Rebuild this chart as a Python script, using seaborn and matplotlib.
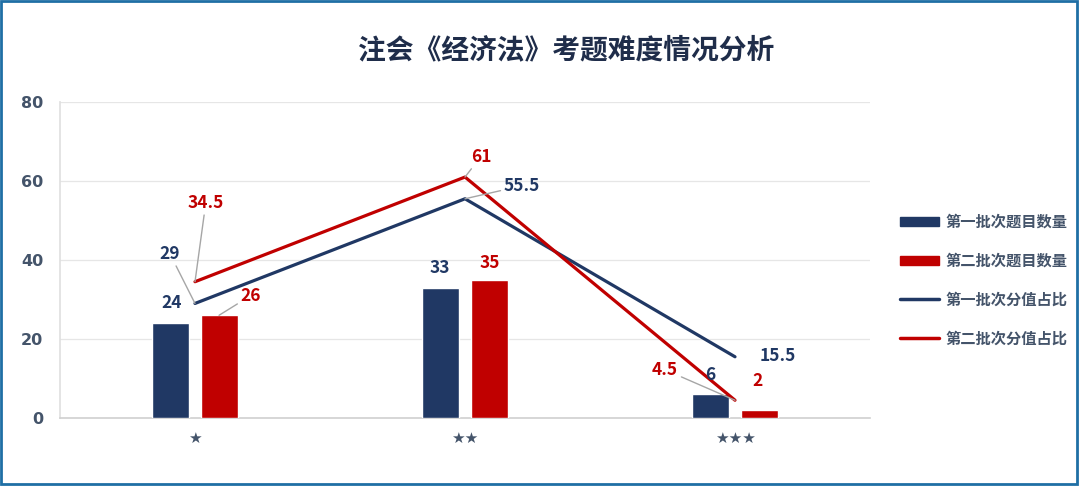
import matplotlib
matplotlib.use("Agg")
import matplotlib.pyplot as plt
import seaborn as sns
import pandas as pd
from matplotlib.patches import Rectangle, Patch
from matplotlib.lines import Line2D

categories = ["★", "★★", "★★★"]
bar_series = ["第一批次题目数量", "第二批次题目数量"]
line_series = ["第一批次分值占比", "第二批次分值占比"]
count_batch1 = [24, 33, 6]
count_batch2 = [26, 35, 2]
share_batch1 = [29, 55.5, 15.5]
share_batch2 = [34.5, 61, 4.5]
yticks = [0, 20, 40, 60, 80]

NAVY = "#203864"
RED = "#C00000"
TICK = "#44546A"

sns.set_theme(style="white")
plt.rcParams["font.family"] = ["Noto Sans CJK SC", "DejaVu Sans"]

fig = plt.figure(figsize=(10.8, 4.96), dpi=100)
ax = fig.add_axes([60 / 1080, 1 - 418 / 496, 810 / 1080, 316 / 496])

df = pd.DataFrame({
    "cat": categories * 2,
    "series": [bar_series[0]] * 3 + [bar_series[1]] * 3,
    "value": count_batch1 + count_batch2,
})
sns.barplot(data=df, x="cat", y="value", hue="series", order=categories,
            hue_order=bar_series, palette=[NAVY, RED], width=0.356, gap=0.23,
            saturation=1, legend=False, ax=ax, zorder=3)

xs = list(range(len(categories)))
sns.lineplot(x=xs, y=share_batch1, color=NAVY, linewidth=2.3, ax=ax, zorder=4)
sns.lineplot(x=xs, y=share_batch2, color=RED, linewidth=2.3, ax=ax, zorder=4)

ax.set_xlim(-0.5, 2.5)
ax.set_ylim(0, 80)
ax.set_yticks(yticks)
ax.set_xlabel("")
ax.set_ylabel("")
ax.grid(axis="y", color="#E6E6E6", linewidth=0.9, zorder=0)
for s in ["top", "right"]:
    ax.spines[s].set_visible(False)
ax.spines["left"].set_color("#E0E0E0")
ax.spines["bottom"].set_color("#D0D0D0")
ax.spines["bottom"].set_linewidth(1.2)
ax.tick_params(axis="y", labelsize=11.5, labelcolor=TICK, length=0, pad=12)
ax.tick_params(axis="x", labelsize=11, labelcolor=TICK, length=0, pad=9)
for t in ax.get_yticklabels():
    t.set_fontweight("bold")
    t.set_family(["DejaVu Sans"])
for t in ax.get_xticklabels():
    t.set_family(["DejaVu Sans"])

lead = dict(arrowstyle="-", color="#A6A6A6", lw=1.0, shrinkA=0, shrinkB=0)
fs = 12.5

def lab(text, color, xy_text, xy_pt=None, ha="center"):
    if xy_pt is None:
        ax.text(xy_text[0], xy_text[1], text, color=color, fontsize=fs,
                fontweight="bold", ha=ha, va="center", zorder=6)
    else:
        ax.annotate(text, xy=xy_pt, xytext=xy_text, color=color, fontsize=fs,
                    fontweight="bold", ha=ha, va="center", arrowprops=lead, zorder=6)

# category 0
lab(str(count_batch1[0]), NAVY, (-0.085, 29.0))
lab(str(count_batch2[0]), RED, (0.207, 31.0), (0.089, count_batch2[0]))
lab(str(share_batch1[0]), NAVY, (-0.093, 41.6), (0.0, share_batch1[0]))
lab(str(share_batch2[0]), RED, (0.04, 54.5), (0.0, share_batch2[0]))
# category 1
lab(str(count_batch1[1]), NAVY, (0.907, 38.0))
lab(str(count_batch2[1]), RED, (1.093, 39.2))
lab(str(share_batch2[1]), RED, (1.059, 66.2), (1.0, share_batch2[1]))
lab(str(share_batch1[1]), NAVY, (1.211, 58.8), (1.0, share_batch1[1]))
# category 2
lab(str(count_batch1[2]), NAVY, (1.907, 10.9))
lab(str(count_batch2[2]), RED, (2.085, 9.4))
lab(str(share_batch2[2]), RED, (1.741, 12.2), (2.0, share_batch2[2]))
lab(str(share_batch1[2]), NAVY, (2.159, 15.7))

# title
fig.text(566 / 1080, 1 - 50 / 496, "注会《经济法》考题难度情况分析", ha="center", va="center",
         fontsize=20, fontweight="bold", color="#1F2D4A")

# legend
handles = [
    Patch(facecolor=NAVY, edgecolor=NAVY),
    Patch(facecolor=RED, edgecolor=RED),
    Line2D([0], [0], color=NAVY, lw=2.5),
    Line2D([0], [0], color=RED, lw=2.5),
]
leg = fig.legend(handles, bar_series + line_series, loc="center left",
                 bbox_to_anchor=(886 / 1080, 1 - 280 / 496), frameon=False,
                 fontsize=11, labelspacing=1.5, handlelength=2.6, handleheight=0.55,
                 handletextpad=0.4)
for t in leg.get_texts():
    t.set_color(TICK)
    t.set_fontweight("bold")

# frame
fig.patches.append(Rectangle((1 / 1080, 1 - 484 / 496), 1076 / 1080, 483 / 496,
                             transform=fig.transFigure, fill=False,
                             edgecolor="#1F6FA5", linewidth=2.0))

fig.savefig("out.png", dpi=100)
